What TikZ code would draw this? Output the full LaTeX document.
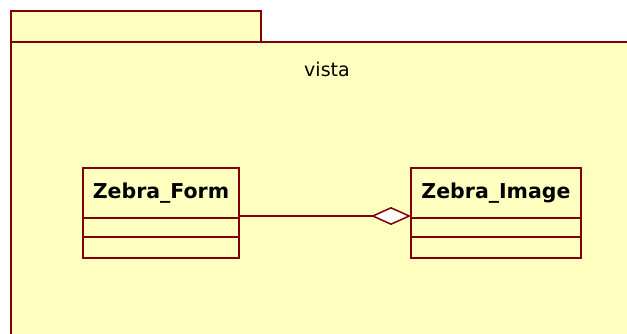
\documentclass[tikz,border=0pt]{standalone}
\usepackage{fontspec}
\setmainfont{DejaVu Sans}
\usetikzlibrary{positioning, arrows.meta}

\definecolor{umlborder}{RGB}{128,0,0}
\definecolor{umlfill}{RGB}{255,255,192}

\begin{document}
\begin{tikzpicture}[
    x=1pt, y=-1pt,
    pkg/.style={draw=umlborder, fill=umlfill, line width=2pt},
    part/.style={draw=umlborder, fill=umlfill, line width=1.6pt, outer sep=0pt, inner sep=0pt},
    classname/.style={part, font=\fontsize{20.5}{24}\selectfont\bfseries},
    node distance=0pt
]
\useasboundingbox (0,0) rectangle (627,333);
\clip (0,0) rectangle (627,333);

% Package vista
\draw[pkg] (11,11) rectangle (261,42);
\draw[pkg] (11,42) rectangle (645,350);
\node[font=\fontsize{19}{23}\selectfont] (pkgname) at (327,69) {vista};

% Class Zebra_Form
\node[classname, minimum width=156pt, minimum height=50pt, anchor=north west] (formname) at (83,168) {Zebra\_Form};
\node[part, minimum width=156pt, minimum height=19pt, below=of formname] (formattr) {};
\node[part, minimum width=156pt, minimum height=21pt, below=of formattr] (formops) {};

% Class Zebra_Image
\node[classname, minimum width=170pt, minimum height=50pt, anchor=north west] (imgname) at (411,168) {Zebra\_Image};
\node[part, minimum width=170pt, minimum height=19pt, below=of imgname] (imgattr) {};
\node[part, minimum width=170pt, minimum height=21pt, below=of imgattr] (imgops) {};

% Aggregation
\draw[umlborder, line width=1.5pt, -{Diamond[open, fill=white, length=40pt, width=18pt]}]
    ([yshift=2pt]formname.south east) -- ([yshift=2pt]imgname.south west);

\end{tikzpicture}
\end{document}
